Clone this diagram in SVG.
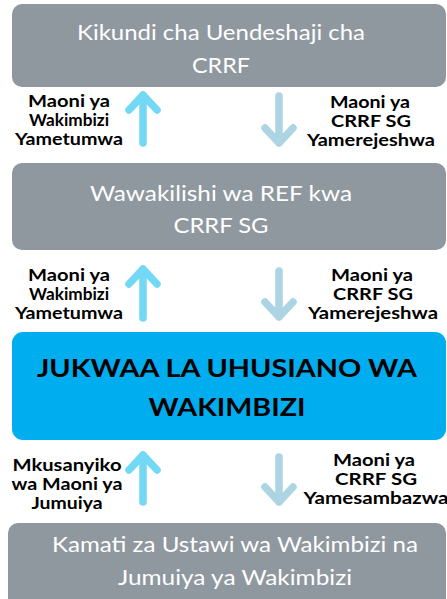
<svg xmlns="http://www.w3.org/2000/svg" width="447" height="599" viewBox="0 0 447 599">
<defs>
<style>
.box{fill:#8F989F}
.main{fill:#00AEEF}
.bt{font-family:Lato,"Open Sans",sans-serif;font-size:21px;fill:#FFFFFF;text-anchor:middle}
.mt{font-family:Lato,"Open Sans",sans-serif;font-size:25px;font-weight:bold;fill:#000000;text-anchor:middle}
.lb{font-family:Lato,"Open Sans",sans-serif;font-size:17px;font-weight:bold;fill:#000000;text-anchor:middle}
.up{stroke:#72D8F5;stroke-width:7.5;stroke-linecap:round;stroke-linejoin:round;fill:none}
.dn{stroke:#ACD4E2;stroke-width:7.5;stroke-linecap:round;stroke-linejoin:round;fill:none}
</style>
</defs>
<rect width="447" height="599" fill="#FFFFFF"/>
<g id="node-kikundi">
<rect class="box" x="12" y="4" width="434" height="83" rx="10"/>
<text class="bt" x="221" y="40" textLength="288" lengthAdjust="spacingAndGlyphs">Kikundi cha Uendeshaji cha</text>
<text class="bt" x="221" y="73" textLength="58" lengthAdjust="spacingAndGlyphs">CRRF</text>
</g>
<g id="node-wawakilishi">
<rect class="box" x="12" y="163" width="434" height="87" rx="10"/>
<text class="bt" x="221" y="201" textLength="262" lengthAdjust="spacingAndGlyphs">Wawakilishi wa REF kwa</text>
<text class="bt" x="221" y="233" textLength="95" lengthAdjust="spacingAndGlyphs">CRRF SG</text>
</g>
<g id="node-jukwaa">
<rect class="main" x="12" y="332" width="434" height="108" rx="11"/>
<text class="mt" x="227" y="377" textLength="380" lengthAdjust="spacingAndGlyphs">JUKWAA LA UHUSIANO WA</text>
<text class="mt" x="227" y="416" textLength="157" lengthAdjust="spacingAndGlyphs">WAKIMBIZI</text>
</g>
<g id="node-kamati">
<rect class="box" x="8" y="523" width="438" height="90" rx="10"/>
<text class="bt" x="235" y="552" textLength="366" lengthAdjust="spacingAndGlyphs">Kamati za Ustawi wa Wakimbizi na</text>
<text class="bt" x="235" y="585" textLength="234" lengthAdjust="spacingAndGlyphs">Jumuiya ya Wakimbizi</text>
</g>
<g id="connectors">
<path class="up" d="M143 143V95M129 110L143 95L157 110"/>
<path class="dn" d="M279 96V143M265 128L279 143L293 128"/>
<path class="up" d="M143 318V269M129 284L143 269L157 284"/>
<path class="dn" d="M279 271V317M265 302L279 317L293 302"/>
<path class="up" d="M143 502V455M129 470L143 455L157 470"/>
<path class="dn" d="M279 457V502M265 487L279 502L293 487"/>
</g>
<g id="labels">
<text class="lb" x="69" y="107" textLength="82" lengthAdjust="spacingAndGlyphs">Maoni ya</text>
<text class="lb" x="69" y="126" textLength="80" lengthAdjust="spacingAndGlyphs">Wakimbizi</text>
<text class="lb" x="69" y="145" textLength="108" lengthAdjust="spacingAndGlyphs">Yametumwa</text>
<text class="lb" x="370" y="108" textLength="80" lengthAdjust="spacingAndGlyphs">Maoni ya</text>
<text class="lb" x="371" y="127" textLength="80" lengthAdjust="spacingAndGlyphs">CRRF SG</text>
<text class="lb" x="371" y="146" textLength="128" lengthAdjust="spacingAndGlyphs">Yamerejeshwa</text>
<text class="lb" x="69" y="281" textLength="82" lengthAdjust="spacingAndGlyphs">Maoni ya</text>
<text class="lb" x="69" y="300" textLength="80" lengthAdjust="spacingAndGlyphs">Wakimbizi</text>
<text class="lb" x="69" y="319" textLength="108" lengthAdjust="spacingAndGlyphs">Yametumwa</text>
<text class="lb" x="372" y="281" textLength="82" lengthAdjust="spacingAndGlyphs">Maoni ya</text>
<text class="lb" x="373" y="300" textLength="80" lengthAdjust="spacingAndGlyphs">CRRF SG</text>
<text class="lb" x="373" y="319" textLength="130" lengthAdjust="spacingAndGlyphs">Yamerejeshwa</text>
<text class="lb" x="67" y="471" textLength="109" lengthAdjust="spacingAndGlyphs">Mkusanyiko</text>
<text class="lb" x="67" y="490" textLength="111" lengthAdjust="spacingAndGlyphs">wa Maoni ya</text>
<text class="lb" x="67" y="509" textLength="71" lengthAdjust="spacingAndGlyphs">Jumuiya</text>
<text class="lb" x="374" y="466" textLength="82" lengthAdjust="spacingAndGlyphs">Maoni ya</text>
<text class="lb" x="376" y="485" textLength="82" lengthAdjust="spacingAndGlyphs">CRRF SG</text>
<text class="lb" x="376" y="504" textLength="145" lengthAdjust="spacingAndGlyphs">Yamesambazwa</text>
</g>
</svg>
